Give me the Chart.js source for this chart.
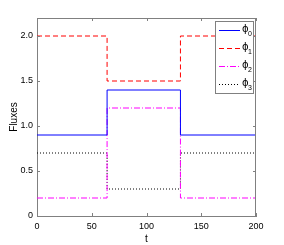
<!DOCTYPE html>
<html><head><meta charset="utf-8">
<script src="https://cdn.jsdelivr.net/npm/chart.js@4"></script>
<style>html,body{margin:0;padding:0;background:#fff}#wrap{width:284px;height:245px}</style>
</head><body><div id="wrap"><canvas id="c"></canvas></div>
<script>
const tBreaks = [0, 64, 131, 200];
const phi0 = [0.9, 1.4, 0.9, 0.9];
const phi1 = [2.0, 1.5, 2.0, 2.0];
const phi2 = [0.2, 1.2, 0.2, 0.2];
const phi3 = [0.7, 0.3, 0.7, 0.7];
const seriesNames = ['0', '1', '2', '3'];
const xTicks = [0, 50, 100, 150, 200];
const yTicks = [0, 0.5, 1, 1.5, 2];

const FONT = 'Liberation Sans, Arial, sans-serif';
const GREY = '#808080';

function pts(v){ return tBreaks.map((t,i)=>({x:t,y:v[i]})); }

const styles = [
  {c:'#0000ff', d:[]},
  {c:'#ff0000', d:[5,3]},
  {c:'#ff00ff', d:[6,2,1,2]},
  {c:'#000000', d:[1,2]}
];
const all = [phi0, phi1, phi2, phi3];

const framePlugin = {
  id:'frame',
  afterDraw(chart){
    const ctx = chart.ctx, a = chart.chartArea;
    const xs = chart.scales.x, ys = chart.scales.y;
    ctx.save();
    ctx.strokeStyle = GREY; ctx.lineWidth = 1;
    ctx.beginPath();
    ctx.moveTo(a.left, a.top+0.5); ctx.lineTo(a.right, a.top+0.5);
    ctx.moveTo(a.right-0.5, a.top); ctx.lineTo(a.right-0.5, a.bottom);
    const L = 3;
    xTicks.forEach(v=>{
      const px = Math.round(xs.getPixelForValue(v))+0.5;
      ctx.moveTo(px, a.bottom); ctx.lineTo(px, a.bottom-L);
      ctx.moveTo(px, a.top); ctx.lineTo(px, a.top+L);
    });
    yTicks.forEach(v=>{
      const py = Math.round(ys.getPixelForValue(v))+0.5;
      ctx.moveTo(a.left, py); ctx.lineTo(a.left+L, py);
      ctx.moveTo(a.right, py); ctx.lineTo(a.right-L, py);
    });
    ctx.stroke();
    // legend
    const bx=215, by=21, bw=38, bh=72;
    ctx.fillStyle='#fff';
    ctx.fillRect(bx,by,bw,bh);
    ctx.strokeStyle=GREY;
    ctx.strokeRect(bx+0.5,by+0.5,bw,bh);
    chart.data.datasets.forEach((ds,i)=>{
      const y = 30 + i*18;
      ctx.strokeStyle = ds.borderColor; ctx.lineWidth=1;
      ctx.setLineDash(ds.borderDash||[]);
      ctx.beginPath(); ctx.moveTo(219, y+0.5); ctx.lineTo(240, y+0.5); ctx.stroke();
      ctx.setLineDash([]);
      ctx.fillStyle='#000';
      ctx.textBaseline='alphabetic'; ctx.textAlign='left';
      ctx.font = '10px DejaVu Sans';
      ctx.fillText('\u03D5', 242, y+2);
      ctx.font = '7px ' + FONT;
      ctx.fillText(seriesNames[i], 248, y+6);
    });
    ctx.restore();
  }
};

new Chart(document.getElementById('c'), {
  type:'line',
  data:{
    datasets: all.map((v,i)=>({
      label:'\u03D5'+seriesNames[i],
      data: pts(v),
      borderColor: styles[i].c,
      borderDash: styles[i].d,
      borderWidth:1,
      pointRadius:0,
      fill:false,
      stepped:true
    }))
  },
  options:{
    responsive:true, maintainAspectRatio:false, animation:false,
    layout:{padding:{top:18,right:28,left:0,bottom:0}},
    plugins:{legend:{display:false}, tooltip:{enabled:false}},
    scales:{
      x:{type:'linear', min:0, max:200,
        afterBuildTicks(s){ s.ticks = xTicks.map(v=>({value:v})); },
        afterFit(s){ s.height = 29; },
        grid:{display:false, drawTicks:false},
        border:{display:true, color:GREY, width:1},
        ticks:{color:'#000', font:{family:FONT,size:9}, padding:5, maxRotation:0},
        title:{display:true, text:'t', color:'#000', font:{family:FONT,size:10}, padding:{top:0,bottom:0}}
      },
      y:{type:'linear', min:0, max:2.2,
        afterBuildTicks(s){ s.ticks = yTicks.map(v=>({value:v})); },
        afterFit(s){ s.width = 37; },
        grid:{display:false, drawTicks:false},
        border:{display:true, color:GREY, width:1},
        ticks:{color:'#000', font:{family:FONT,size:9}, padding:4},
        title:{display:true, text:'Fluxes', color:'#000', font:{family:FONT,size:10}, padding:{top:8,bottom:4}}
      }
    }
  },
  plugins:[framePlugin]
});
</script></body></html>
